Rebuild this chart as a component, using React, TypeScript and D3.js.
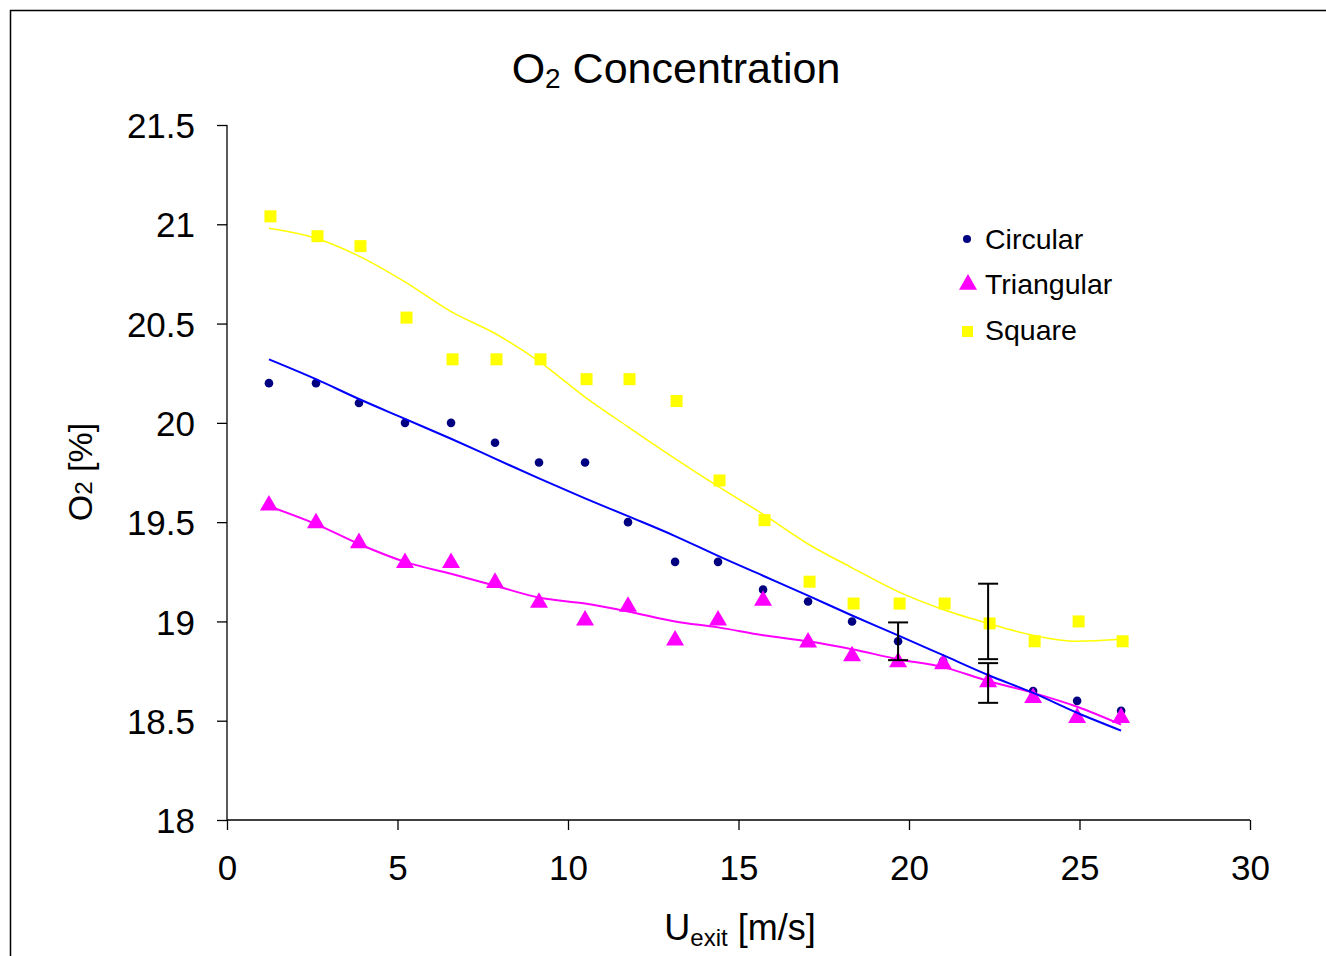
import * as d3 from 'd3';
import React, { useEffect, useRef } from 'react';

// exit velocity [m/s]
const uExit = [1.23, 2.61, 3.87, 5.22, 6.57, 7.86, 9.15, 10.5, 11.76, 13.14, 14.4, 15.72, 17.04, 18.33, 19.68, 21.0, 22.32, 23.64, 24.93, 26.22];

const circular = [20.2, 20.2, 20.1, 20.0, 20.0, 19.9, 19.8, 19.8, 19.5, 19.3, 19.3, 19.16, 19.1, 19.0, 18.9, 18.8, 18.7, 18.65, 18.6, 18.55];
const triangular = [19.58, 19.49, 19.39, 19.29, 19.29, 19.19, 19.09, 19.0, 19.07, 18.9, 19.0, 19.1, 18.89, 18.82, 18.79, 18.78, 18.69, 18.61, 18.51, 18.51];
const square = [21.04, 20.94, 20.89, 20.53, 20.32, 20.32, 20.32, 20.22, 20.22, 20.11, 19.71, 19.51, 19.2, 19.09, 19.09, 19.09, 18.99, 18.9, 19.0, 18.9];

// trendlines
const circularTrend = [20.32, 20.22, 20.12, 20.02, 19.92, 19.82, 19.72, 19.62, 19.53, 19.43, 19.33, 19.23, 19.13, 19.03, 18.93, 18.83, 18.73, 18.64, 18.54, 18.45];
const triangularTrend = [19.58, 19.49, 19.39, 19.3, 19.24, 19.18, 19.12, 19.09, 19.05, 19.0, 18.97, 18.93, 18.9, 18.86, 18.81, 18.77, 18.7, 18.64, 18.57, 18.48];
const squareTrend = [20.98, 20.93, 20.84, 20.71, 20.56, 20.45, 20.31, 20.13, 19.98, 19.82, 19.68, 19.54, 19.39, 19.27, 19.15, 19.06, 18.99, 18.93, 18.9, 18.91];

// error bars: x, centre, half-width
const errX = [19.68, 22.32, 22.32];
const errY = [18.9, 19.0, 18.69];
const errD = [0.095, 0.19, 0.1];

const xTicks = [0, 5, 10, 15, 20, 25, 30];
const yTicks = [18, 18.5, 19, 19.5, 20, 20.5, 21, 21.5];

const legendNames = ['Circular', 'Triangular', 'Square'];

const W = 1326;
const H = 956;
const font = '"Liberation Sans", Arial, sans-serif';

export default function App() {
  const svgRef = useRef(null);

  useEffect(() => {
    const svg = d3.select(svgRef.current);
    svg.selectAll('*').remove();

    const x = d3.scaleLinear().domain([0, 30]).range([227, 1250]);
    const y = d3.scaleLinear().domain([18, 21.5]).range([820, 125]);

    // outer frame (cut by the window on right and bottom)
    svg.append('rect')
      .attr('x', 10.5).attr('y', 10.5)
      .attr('width', W + 20).attr('height', H + 20)
      .attr('fill', 'white').attr('stroke', 'black').attr('stroke-width', 1.5);

    // title
    const title = svg.append('text')
      .attr('x', 676).attr('y', 83)
      .attr('text-anchor', 'middle')
      .style('font-family', font).style('font-size', '43px');
    title.append('tspan').text('O');
    title.append('tspan').text('2').style('font-size', '28px').attr('dy', 5);
    title.append('tspan').text(' Concentration').attr('dy', -5);

    // axes
    const yAxis = d3.axisLeft(y).tickValues(yTicks).tickSize(10).tickFormat((d) => String(d));
    const xAxis = d3.axisBottom(x).tickValues(xTicks).tickSize(10).tickFormat((d) => String(d));

    const gy = svg.append('g').attr('transform', `translate(${x(0)},0)`).call(yAxis);
    gy.select('.domain').attr('d', `M0,${y(18)}V${y(21.5)}`);
    gy.selectAll('text')
      .attr('x', -32).attr('dy', '0.36em')
      .style('font-family', font).style('font-size', '35px').attr('fill', 'black');

    const gx = svg.append('g').attr('transform', `translate(0,${y(18)})`).call(xAxis);
    gx.select('.domain').attr('d', `M${x(0)},0H${x(30)}`);
    gx.selectAll('text')
      .attr('y', 35).attr('dy', '0.71em')
      .style('font-family', font).style('font-size', '35px').attr('fill', 'black');
    svg.selectAll('.domain, .tick line').attr('stroke', 'black').attr('stroke-width', 1.3);

    // axis labels
    const xl = svg.append('text')
      .attr('x', 740).attr('y', 940)
      .attr('text-anchor', 'middle')
      .style('font-family', font).style('font-size', '36px');
    xl.append('tspan').text('U');
    xl.append('tspan').text('exit').style('font-size', '24px').attr('dy', 6);
    xl.append('tspan').text(' [m/s]').attr('dy', -6);

    const yl = svg.append('text')
      .attr('transform', `translate(92,${472}) rotate(-90)`)
      .attr('text-anchor', 'middle')
      .style('font-family', font).style('font-size', '34px');
    yl.append('tspan').text('O');
    yl.append('tspan').text('2').style('font-size', '24px');
    yl.append('tspan').text(' [%]');

    // markers
    const triSym = d3.symbol().type(d3.symbolTriangle).size(140);

    svg.append('g').selectAll('rect')
      .data(square.map((v, i) => [uExit[i], v]))
      .enter().append('rect')
      .attr('x', (d) => x(d[0]) - 6 + 1.5).attr('y', (d) => y(d[1]) - 6)
      .attr('width', 12).attr('height', 12)
      .attr('fill', '#FFFF00');

    svg.append('g').selectAll('circle')
      .data(circular.map((v, i) => [uExit[i], v]))
      .enter().append('circle')
      .attr('cx', (d) => x(d[0])).attr('cy', (d) => y(d[1]))
      .attr('r', 4.3)
      .attr('fill', '#000080');

    svg.append('g').selectAll('path')
      .data(triangular.map((v, i) => [uExit[i], v]))
      .enter().append('path')
      .attr('d', triSym)
      .attr('transform', (d) => `translate(${x(d[0])},${y(d[1]) - 1})`)
      .attr('fill', '#FF00FF');

    // trendlines
    const line = d3.line()
      .x((d) => x(d[0]))
      .y((d) => y(d[1]))
      .curve(d3.curveMonotoneX);

    const trends = [
      { vals: squareTrend, color: '#FFFF00', w: 1.5 },
      { vals: triangularTrend, color: '#FF00FF', w: 2 },
      { vals: circularTrend, color: '#0000FF', w: 2 },
    ];
    trends.forEach((t) => {
      svg.append('path')
        .attr('d', line(t.vals.map((v, i) => [uExit[i], v])))
        .attr('fill', 'none')
        .attr('stroke', t.color)
        .attr('stroke-width', t.w);
    });

    // error bars
    const eg = svg.append('g').attr('stroke', 'black').attr('stroke-width', 2);
    errX.forEach((ex, i) => {
      const cx = x(ex);
      const y0 = y(errY[i] - errD[i]);
      const y1 = y(errY[i] + errD[i]);
      eg.append('line').attr('x1', cx).attr('x2', cx).attr('y1', y0).attr('y2', y1);
      eg.append('line').attr('x1', cx - 10).attr('x2', cx + 10).attr('y1', y0).attr('y2', y0);
      eg.append('line').attr('x1', cx - 10).attr('x2', cx + 10).attr('y1', y1).attr('y2', y1);
    });

    // legend
    const lg = svg.append('g').attr('transform', 'translate(967,239)');
    legendNames.forEach((name, i) => {
      const row = lg.append('g').attr('transform', `translate(0,${i * 45.5})`);
      if (i === 0) row.append('circle').attr('r', 4).attr('fill', '#000080');
      if (i === 1) row.append('path').attr('d', triSym).attr('fill', '#FF00FF').attr('transform', 'translate(1,0)');
      if (i === 2) row.append('rect').attr('x', -5).attr('y', -4).attr('width', 11).attr('height', 11).attr('fill', '#FFFF00');
      row.append('text')
        .attr('x', 18).attr('y', 0).attr('dy', '0.35em')
        .style('font-family', font).style('font-size', '28.5px')
        .text(name);
    });
  }, []);

  return (
    <svg
      ref={svgRef}
      width={W}
      height={H}
      style={{ position: 'absolute', left: 0, top: 0, background: 'white' }}
    ></svg>
  );
}
